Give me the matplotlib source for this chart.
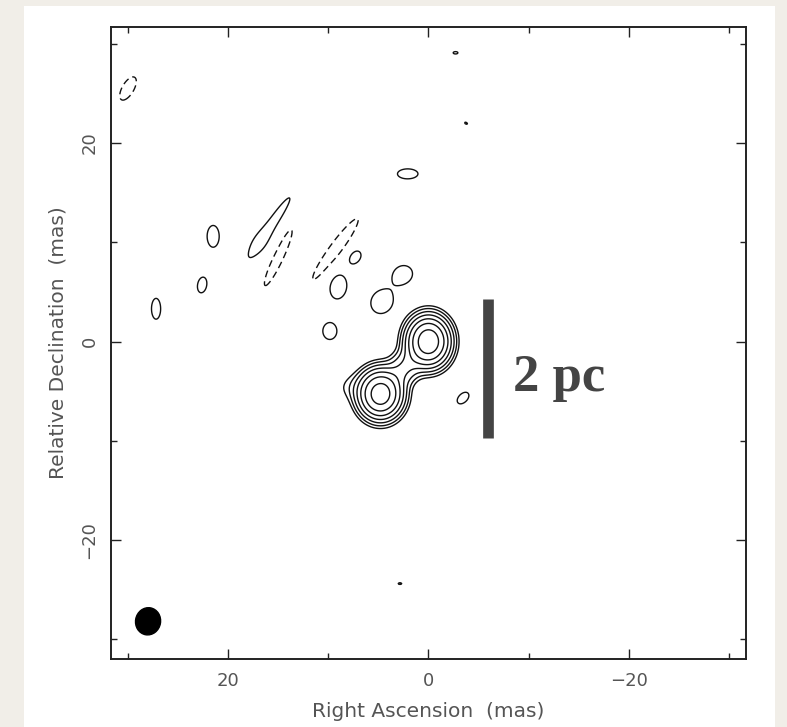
import numpy as np
import matplotlib.pyplot as plt
from matplotlib.patches import Ellipse, Rectangle

# source model: RA, Dec (mas), peak (units of lowest contour),
# sigma along / across the axis (mas), axis angle (deg, RA -> Dec)
SRC_RA = [0.0, 4.8, 2.4, 7.2]
SRC_DEC = [0.0, -5.3, -2.65, -4.6]
SRC_PEAK = [105.0, 95.0, 9.0, 1.4]
SRC_SMAJ = [1.18, 1.15, 1.7, 1.3]
SRC_SMIN = [1.0, 1.02, 0.85, 0.9]
SRC_ANG = [90, 90, -48, 0]

# weak features (positive = solid, negative = dashed)
BLOB_RA = [30.0, -2.7, -3.75, 2.1, 15.6, 16.9, 21.5, 22.6, 27.2, 15.0, 9.3,
           7.3, 9.0, 2.55, 4.65, 9.85, -3.45, 2.85]
BLOB_DEC = [25.5, 29.1, 22.0, 16.9, 11.9, 9.9, 10.6, 5.7, 3.3, 8.45, 9.3,
            8.5, 5.5, 6.75, 4.0, 1.05, -5.7, -24.4]
BLOB_PEAK = [-1.6, 1.2, 1.1, 1.6, 1.45, 0.68, 1.6, 1.6, 1.6, -1.6, -1.6,
             1.6, 1.6, 1.6, 1.6, 1.6, 1.6, 1.1]
BLOB_SMAJ = [1.35, 0.4, 0.35, 1.08, 3.6, 1.2, 1.13, 0.82, 1.08, 3.2, 3.9,
             0.7, 1.25, 1.0, 1.25, 0.87, 0.72, 0.4]
BLOB_SMIN = [0.6, 0.2, 0.2, 0.52, 0.5, 0.9, 0.62, 0.47, 0.47, 0.5, 0.62,
             0.5, 0.85, 0.9, 1.1, 0.72, 0.45, 0.2]
BLOB_ANG = [120, 0, 30, 0, 124, 120, 90, 100, 90, 115, 126,
            125, 100, 150, 120, 90, 135, 0]

LEVELS = [-1, 1, 2, 4, 8, 16, 32, 64]

# restoring beam and scale bar
BEAM_RA, BEAM_DEC, BEAM_W, BEAM_H = 28.0, -28.2, 2.5, 2.75
BAR_RA = -5.95
BAR_DEC = [-9.73, 4.28]


def gauss(X, Y, ra, dec, peak, smaj, smin, ang):
    t = np.deg2rad(ang)
    u = (X - ra) * np.cos(t) + (Y - dec) * np.sin(t)
    v = -(X - ra) * np.sin(t) + (Y - dec) * np.cos(t)
    return peak * np.exp(-0.5 * ((u / smaj) ** 2 + (v / smin) ** 2))


ra = np.arange(-33, 33, 0.07)
dec = np.arange(-33, 33, 0.07)
X, Y = np.meshgrid(ra, dec)
Z = np.zeros_like(X)
for p in zip(SRC_RA, SRC_DEC, SRC_PEAK, SRC_SMAJ, SRC_SMIN, SRC_ANG):
    Z += gauss(X, Y, *p)
for p in zip(BLOB_RA, BLOB_DEC, BLOB_PEAK, BLOB_SMAJ, BLOB_SMIN, BLOB_ANG):
    Z += gauss(X, Y, *p)

fig = plt.figure(figsize=(7.87, 7.27), dpi=100, facecolor='#f1eee8')
fig.add_artist(Rectangle((24 / 787, 0), 751 / 787, 721 / 727, transform=fig.transFigure,
                         facecolor='white', edgecolor='none', zorder=-10))
ax = fig.add_axes([111 / 787, 68 / 727, 635 / 787, 632 / 727])
ax.set_zorder(1)

styles = [(0, (5, 3)) if lv < 0 else 'solid' for lv in LEVELS]
ax.contour(X, Y, Z, levels=LEVELS, colors='#111111', linewidths=1.0, linestyles=styles)

ax.add_patch(Ellipse((BEAM_RA, BEAM_DEC), BEAM_W, BEAM_H, angle=10, facecolor='black', edgecolor='black'))

# 2 pc scale bar
ax.plot([BAR_RA, BAR_RA], BAR_DEC, color='#444444', linewidth=7.7, solid_capstyle='butt')
ax.text(-8.42, -4.99, '2 pc', fontsize=38, fontweight='bold', family='Liberation Serif',
        color='#444444', ha='left', va='baseline')

ax.set_xlim(31.7, -31.7)
ax.set_ylim(-32.0, 31.7)
ax.set_xticks([20, 0, -20])
ax.set_xticks([30, 10, -10, -30], minor=True)
ax.set_yticks([20, 0, -20])
ax.set_yticks([30, 10, -10, -30], minor=True)
ax.set_xticklabels(['20', '0', '\u221220'])
ax.set_yticklabels(['20', '0', '\u221220'], rotation=90, va='center')
ax.tick_params(which='both', direction='in', top=True, right=True, colors='#222222',
               labelcolor='#555555', labelsize=13, width=1.0)
ax.tick_params(which='major', length=7.5, pad=9)
ax.tick_params(which='minor', length=4)
for s in ax.spines.values():
    s.set_linewidth(1.4)
    s.set_color('#222222')

ax.set_xlabel('Right Ascension  (mas)', fontsize=14.5, color='#555555', labelpad=9)
ax.set_ylabel('Relative Declination  (mas)', fontsize=14.5, color='#555555', labelpad=9)

plt.savefig('out.png', dpi=100, facecolor=fig.get_facecolor())
